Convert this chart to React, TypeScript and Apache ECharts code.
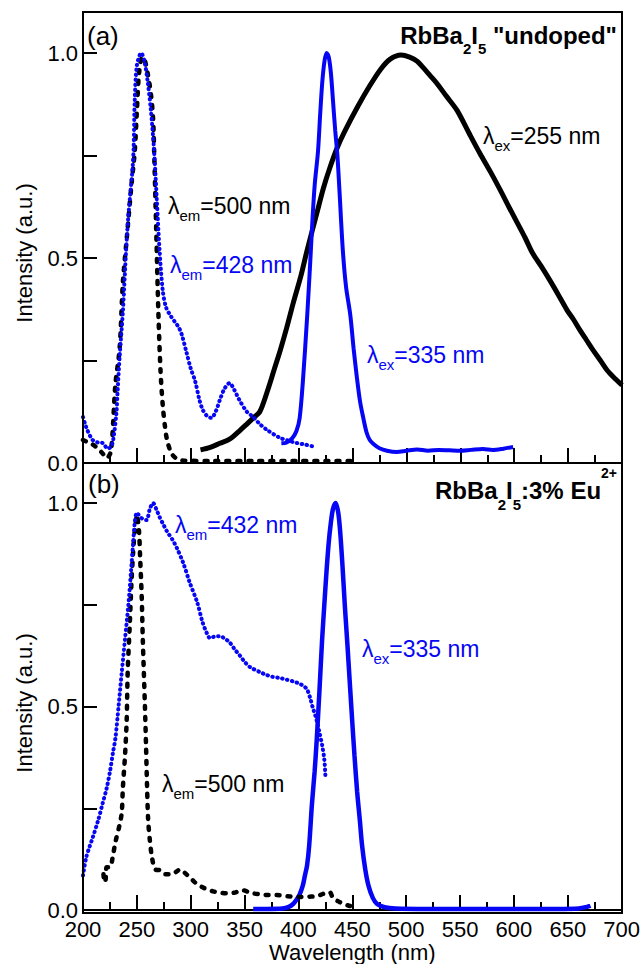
import React, { useEffect, useRef } from "react";
import * as echarts from "echarts";

const FONT = '"Liberation Sans", Arial, Helvetica, sans-serif';
const BLUE = "#0606f4";
const BLACK = "#000000";

// x axis (nm) ticks and y-axis range / labelled values
const xTicks = [200, 250, 300, 350, 400, 450, 500, 550, 600, 650, 700];
const yRange = [0, 1.0];
const yLabelled = [0, 0.5, 1.0];

// Panel (a) — "undoped"
const aExcEm500: [number, number][] = [
  [200, 0.056], [205, 0.05], [209, 0.045], [214, 0.035], [218, 0.024], [222, 0.012], [226, 0.03],
  [230, 0.19], [234, 0.28], [237, 0.44], [241, 0.56], [245, 0.68], [248, 0.76], [250, 0.86],
  [252, 0.95], [255, 0.99], [257, 0.985], [260, 0.95], [263, 0.9], [265, 0.84], [266, 0.76],
  [268, 0.56], [270, 0.36], [272, 0.22], [274, 0.14], [276, 0.09], [278, 0.056], [282, 0.024],
  [287, 0.01], [293, 0.006], [320, 0.005], [360, 0.005], [400, 0.005], [448, 0.005],
];
const aExcEm428: [number, number][] = [
  [200, 0.112], [202, 0.095], [204, 0.08], [209, 0.056], [214, 0.05], [218, 0.049], [223, 0.035],
  [226, 0.04], [228, 0.056], [231, 0.122], [232, 0.17], [234, 0.26], [237, 0.37], [240, 0.52],
  [242, 0.6], [244, 0.66], [246, 0.72], [247, 0.77], [248, 0.885], [250, 0.97], [254, 1.0],
  [257, 0.98], [260, 0.93], [263, 0.86], [266, 0.76], [268.5, 0.64], [271, 0.52], [274, 0.42],
  [277, 0.38], [281, 0.36], [285, 0.345], [289, 0.33], [292, 0.31], [296, 0.27], [300, 0.23],
  [304, 0.2], [308, 0.154], [311, 0.13], [315, 0.115], [319, 0.11], [323, 0.125], [327, 0.154],
  [331, 0.18], [336, 0.195], [340, 0.18], [345, 0.154], [352, 0.125], [358, 0.112], [364, 0.095],
  [371, 0.08], [383, 0.061], [390, 0.055], [398, 0.049], [406, 0.045], [413, 0.041], [415, 0.045],
];
const aEmEx255: [number, number][] = [
  [309, 0.032], [318, 0.038], [327, 0.048], [336, 0.058], [345, 0.078], [352, 0.095], [358, 0.11],
  [364, 0.125], [371, 0.175], [377, 0.225], [383, 0.275], [389, 0.33], [395, 0.39], [402, 0.455],
  [408, 0.52], [417, 0.61], [423, 0.67], [429, 0.72], [436, 0.77], [443, 0.81], [455, 0.87],
  [466, 0.92], [476, 0.96], [485, 0.985], [495, 0.995], [503, 0.99], [510, 0.98], [515, 0.966],
  [522, 0.945], [528, 0.927], [537, 0.895], [547, 0.86], [559, 0.8], [568, 0.756], [578, 0.71],
  [587, 0.666], [595, 0.625], [603, 0.585], [610, 0.55], [617, 0.512], [625, 0.48], [633, 0.446],
  [641, 0.41], [649, 0.373], [655, 0.35], [661, 0.324], [667, 0.3], [673, 0.276], [680, 0.25],
  [686, 0.227], [692, 0.21], [700, 0.19],
];
const aEmEx335: [number, number][] = [
  [384, 0.048], [389, 0.05], [394, 0.06], [398, 0.078], [401, 0.11], [404, 0.2], [408, 0.36],
  [411, 0.5], [413, 0.6], [415, 0.68], [418, 0.76], [420, 0.85], [422, 0.93], [424, 0.98],
  [426, 1.0], [428, 0.99], [430, 0.95], [432, 0.88], [434, 0.81], [436, 0.75], [438, 0.66],
  [441, 0.52], [444, 0.43], [448, 0.36], [451, 0.28], [454, 0.21], [457, 0.15], [460, 0.11],
  [463, 0.075], [466, 0.056], [470, 0.045], [475, 0.036], [482, 0.03], [491, 0.027], [500, 0.03],
  [510, 0.033], [520, 0.03], [530, 0.032], [540, 0.031], [550, 0.03], [560, 0.032], [571, 0.034],
  [580, 0.032], [590, 0.035], [599, 0.039],
];

// Panel (b) — 3% Eu2+
const bExcEm432: [number, number][] = [
  [200, 0.085], [203, 0.13], [206, 0.155], [209, 0.178], [214, 0.22], [218, 0.26], [222, 0.3],
  [225, 0.34], [228, 0.39], [230, 0.42], [233, 0.5], [236, 0.585], [239, 0.666], [242, 0.746],
  [244.5, 0.83], [246.5, 0.9], [248, 0.95], [250, 0.976], [253, 0.966], [256, 0.96], [259, 0.958],
  [262, 0.985], [265, 1.0], [268, 0.985], [271, 0.966], [275, 0.945], [278, 0.93], [283, 0.91],
  [287, 0.89], [293, 0.853], [299, 0.805], [306, 0.756], [311, 0.707], [315, 0.68], [318, 0.668],
  [322, 0.672], [327, 0.673], [331, 0.668], [336, 0.658], [341, 0.64], [346, 0.624], [350, 0.61],
  [355, 0.597], [364, 0.585], [370, 0.578], [376, 0.573], [383, 0.57], [389, 0.566], [395, 0.562],
  [401, 0.556], [405, 0.55], [408, 0.542], [411, 0.52], [413, 0.5], [416, 0.475], [418, 0.454],
  [420, 0.43], [422, 0.405], [424, 0.37], [425, 0.33],
];
const bExcEm500: [number, number][] = [
  [219, 0.088], [220, 0.068], [221, 0.075], [222, 0.105], [225, 0.105], [228, 0.137], [230, 0.166],
  [234, 0.21], [236, 0.24], [237, 0.3], [239, 0.38], [240.5, 0.463], [241.5, 0.585], [243.5, 0.707],
  [245, 0.805], [246.5, 0.878], [248, 0.93], [250, 0.97], [252, 0.93], [253, 0.868], [254.5, 0.77],
  [255.5, 0.666], [257.5, 0.5], [258.5, 0.405], [259.5, 0.3], [260.5, 0.22], [262, 0.173],
  [264, 0.13], [267, 0.1], [271, 0.098], [276, 0.088], [283, 0.088], [287, 0.095], [290, 0.1],
  [293, 0.095], [296, 0.088], [302, 0.073], [306, 0.063], [311, 0.056], [316, 0.05], [321, 0.046],
  [327, 0.043], [334, 0.041], [341, 0.043], [348, 0.049], [353, 0.045], [358, 0.041], [365, 0.039],
  [371, 0.037], [380, 0.037], [390, 0.034], [401, 0.032], [410, 0.033], [417, 0.034], [423, 0.04],
  [429, 0.044], [432, 0.03], [438, 0.02], [443, 0.014], [448, 0.01],
];
const bEmEx335: [number, number][] = [
  [358, 0.003], [370, 0.003], [385, 0.004], [391, 0.008], [395, 0.015], [398, 0.025], [401, 0.038],
  [404, 0.06], [406, 0.085], [408, 0.11], [410, 0.16], [412.5, 0.26], [415, 0.34], [417, 0.42],
  [419.5, 0.54], [422, 0.666], [424, 0.75], [426, 0.83], [428, 0.9], [430, 0.95], [432, 0.985],
  [434.5, 1.0], [437, 0.975], [439, 0.92], [441, 0.84], [443, 0.75], [445.5, 0.65], [448, 0.544],
  [450, 0.46], [452, 0.38], [454.5, 0.29], [457, 0.22], [459, 0.16], [462, 0.1], [465, 0.06],
  [469, 0.03], [473, 0.015], [480, 0.007], [490, 0.004], [520, 0.003], [560, 0.003], [600, 0.003],
  [640, 0.003], [660, 0.004], [668, 0.008], [671, 0.011],
];

const axisColor = { color: "#000", width: 2 };

// panel geometry (pixels)
const PLOT_LEFT = 83;
const PLOT_WIDTH = 539;
const PANEL_A = { frameTop: 12, axisTop: 53, bottom: 463 };
const PANEL_B = { frameTop: 463, axisTop: 503, bottom: 913 };

function gridFor(p: { axisTop: number; bottom: number }) {
  return { left: PLOT_LEFT, top: p.axisTop, width: PLOT_WIDTH, height: p.bottom - p.axisTop, show: false };
}

function xAxisFor(grid: number, showLabels: boolean) {
  return {
    gridIndex: grid,
    type: "value",
    min: xTicks[0],
    max: xTicks[xTicks.length - 1],
    interval: 50,
    axisLine: { show: true, onZero: false, lineStyle: axisColor },
    axisTick: { show: true, inside: true, length: 15, lineStyle: axisColor },
    minorTick: { show: true, splitNumber: 2, length: 8, lineStyle: axisColor },
    splitLine: { show: false },
    minorSplitLine: { show: false },
    axisLabel: {
      show: showLabels,
      fontSize: 22,
      fontFamily: FONT,
      color: "#000",
      margin: 8,
    },
    name: showLabels ? "Wavelength (nm)" : "",
    nameLocation: "middle",
    nameGap: 28,
    nameTextStyle: { fontSize: 22, fontFamily: FONT, color: "#000" },
  };
}

function yAxisFor(grid: number) {
  return {
    gridIndex: grid,
    type: "value",
    position: "left",
    min: yRange[0],
    max: yRange[1],
    interval: 0.25,
    axisLine: { show: true, onZero: false, lineStyle: axisColor },
    axisTick: { show: true, inside: true, length: 14, lineStyle: axisColor },
    axisLabel: {
      show: true,
      formatter: (v: number) =>
        yLabelled.some((t) => Math.abs(t - v) < 1e-6) ? v.toFixed(1) : "",
      fontSize: 22,
      lineHeight: 18,
      padding: [0, 0, 6, 0],
      fontFamily: FONT,
      color: "#000",
      margin: 5,
    },
    splitLine: { show: false },
  };
}

function dotted(data: [number, number][], grid: number, color: string, heavy: boolean) {
  return {
    type: "line",
    xAxisIndex: grid,
    yAxisIndex: grid,
    data,
    showSymbol: false,
    smooth: 0.3,
    clip: false,
    lineStyle: heavy
      ? { color, width: 4.5, type: [3, 8], cap: "round" }
      : { color, width: 4, type: [0.5, 4.5], cap: "round" },
  };
}

function solid(data: [number, number][], grid: number, color: string, width: number) {
  return {
    type: "line",
    xAxisIndex: grid,
    yAxisIndex: grid,
    data,
    showSymbol: false,
    smooth: 0.3,
    clip: false,
    lineStyle: { color, width, type: "solid" },
  };
}

function lambdaLabel(sub: string, rest: string, x: number, y: number, color: string) {
  return {
    type: "text",
    x,
    y,
    silent: true,
    style: {
      text: `{m|λ}{s|${sub}}{m|${rest}}`,
      align: "left",
      verticalAlign: "top",
      fill: color,
      rich: {
        m: { fontSize: 23, lineHeight: 23, fontFamily: FONT, fill: color, verticalAlign: "top" },
        s: {
          fontSize: 15,
          lineHeight: 15,
          fontFamily: FONT,
          fill: color,
          verticalAlign: "top",
          padding: [14, 0, 0, 0],
        },
      },
    },
  };
}

function plainText(text: string, x: number, y: number, size: number) {
  return {
    type: "text",
    x,
    y,
    silent: true,
    style: {
      text,
      fontSize: size,
      lineHeight: size,
      fontFamily: FONT,
      fill: "#000",
      align: "left",
      verticalAlign: "top",
    },
  };
}

function frame(p: { frameTop: number; bottom: number }) {
  return {
    type: "rect",
    silent: true,
    z: 100,
    shape: { x: PLOT_LEFT, y: p.frameTop, width: PLOT_WIDTH, height: p.bottom - p.frameTop },
    style: { fill: "none", stroke: "#000", lineWidth: 2 },
  };
}

export default function App() {
  const ref = useRef<HTMLDivElement>(null);

  useEffect(() => {
    if (!ref.current) return;
    const chart = echarts.init(ref.current, null, { renderer: "svg" });

    const titleA = {
      type: "text",
      x: 617,
      y: 23,
      silent: true,
      style: {
        text: '{b|RbBa}{s|2}{b|I}{s|5}{b| "undoped"}',
        align: "right",
        verticalAlign: "top",
        fill: "#000",
        rich: {
          b: { fontSize: 24, lineHeight: 24, fontWeight: "bold", fontFamily: FONT, fill: "#000", verticalAlign: "top" },
          s: {
            fontSize: 15,
            lineHeight: 15,
            fontWeight: "bold",
            fontFamily: FONT,
            fill: "#000",
            verticalAlign: "top",
            padding: [18, 0, 0, 0],
          },
        },
      },
    };

    const titleB = {
      type: "text",
      x: 617,
      y: 466,
      silent: true,
      style: {
        text: "{b|RbBa}{s|2}{b|I}{s|5}{b|:3% Eu}{p|2+}",
        align: "right",
        verticalAlign: "top",
        fill: "#000",
        rich: {
          b: {
            fontSize: 24,
            lineHeight: 24,
            fontWeight: "bold",
            fontFamily: FONT,
            fill: "#000",
            verticalAlign: "top",
            padding: [12, 0, 0, 0],
          },
          s: {
            fontSize: 15,
            lineHeight: 15,
            fontWeight: "bold",
            fontFamily: FONT,
            fill: "#000",
            verticalAlign: "top",
            padding: [31, 0, 0, 0],
          },
          p: { fontSize: 14, lineHeight: 14, fontWeight: "bold", fontFamily: FONT, fill: "#000", verticalAlign: "top" },
        },
      },
    };

    const yName = (cy: number) => ({
      type: "text",
      x: 24,
      y: cy,
      rotation: Math.PI / 2,
      silent: true,
      style: {
        text: "Intensity (a.u.)",
        fontSize: 22,
        fontFamily: FONT,
        fill: "#000",
        align: "center",
        verticalAlign: "middle",
      },
    });

    chart.setOption({
      animation: false,
      backgroundColor: "#fff",
      grid: [gridFor(PANEL_A), gridFor(PANEL_B)],
      xAxis: [xAxisFor(0, false), xAxisFor(1, true)],
      yAxis: [yAxisFor(0), yAxisFor(1)],
      series: [
        solid(aEmEx255, 0, BLACK, 5),
        solid(aEmEx335, 0, BLUE, 4),
        dotted(aExcEm500, 0, BLACK, true),
        dotted(aExcEm428, 0, BLUE, false),
        solid(bEmEx335, 1, BLUE, 4.5),
        dotted(bExcEm500, 1, BLACK, true),
        dotted(bExcEm432, 1, BLUE, false),
      ],
      graphic: [
        frame(PANEL_A),
        frame(PANEL_B),
        plainText("(a)", 87, 23, 26),
        plainText("(b)", 88, 471, 26),
        titleA,
        titleB,
        lambdaLabel("ex", "=255 nm", 483, 124, BLACK),
        lambdaLabel("em", "=500 nm", 168, 194, BLACK),
        lambdaLabel("em", "=428 nm", 170, 253, BLUE),
        lambdaLabel("ex", "=335 nm", 367, 343, BLUE),
        lambdaLabel("em", "=432 nm", 175, 513, BLUE),
        lambdaLabel("ex", "=335 nm", 362, 637, BLUE),
        lambdaLabel("em", "=500 nm", 162, 772, BLACK),
        yName(253),
        yName(703),
      ],
    });

    return () => chart.dispose();
  }, []);

  return (
    <div
      ref={ref}
      style={{ position: "absolute", left: 0, top: 0, width: 643, height: 964, background: "#fff" }}
    />
  );
}
